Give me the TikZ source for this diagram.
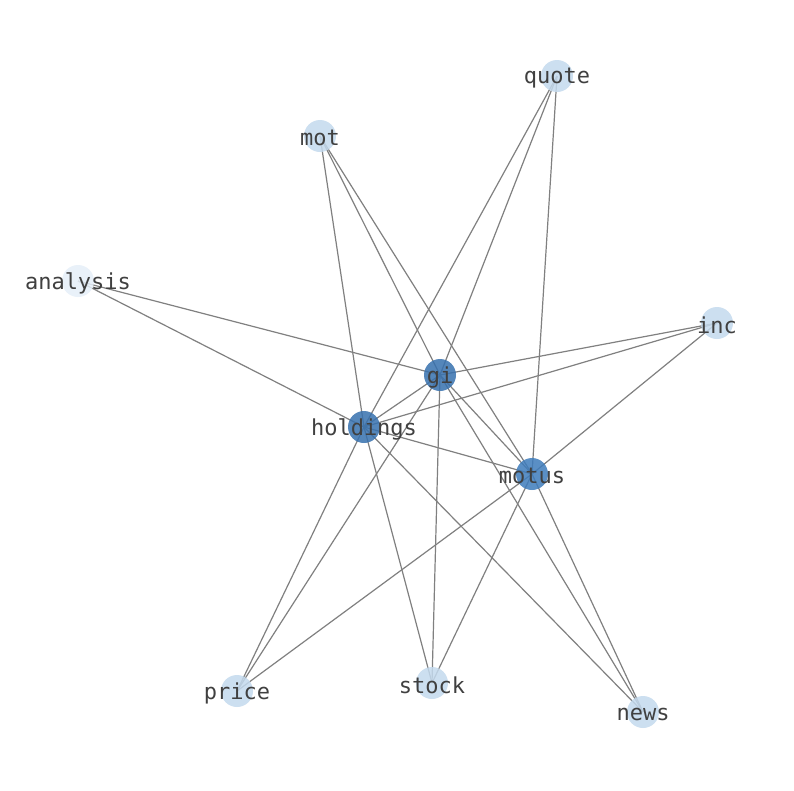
\documentclass[tikz,border=0pt]{standalone}
\usepackage{fontspec}
\setmonofont{DejaVu Sans Mono}
\begin{document}
\begin{tikzpicture}[x=1pt,y=-1pt,
  edge/.style={draw={rgb,255:red,128;green,128;blue,128},line width=1.2pt},
  nd/.style={circle,minimum size=32pt,inner sep=0pt,fill opacity=0.85,draw=none},
  hub/.style={nd,fill={rgb,255:red,55;green,113;blue,175}},
  hubb/.style={nd,fill={rgb,255:red,62;green,124;blue,188}},
  leaf/.style={nd,fill={rgb,255:red,196;green,218;blue,238}},
  faint/.style={nd,fill={rgb,255:red,230;green,239;blue,249}},
  lab/.style={text={rgb,255:red,64;green,64;blue,64},font=\ttfamily\fontsize{22}{24}\selectfont,inner sep=0pt,anchor=center,yshift=-2pt}]
\useasboundingbox (0,0) rectangle (794,790);
\fill[white] (0,0) rectangle (794,790);
\coordinate (quote) at (557,76);
\coordinate (mot) at (320,136);
\coordinate (analysis) at (78,281);
\coordinate (inc) at (717,323);
\coordinate (gi) at (440,375);
\coordinate (holdings) at (364,427);
\coordinate (motus) at (532,474);
\coordinate (price) at (237,691);
\coordinate (stock) at (432,683);
\coordinate (news) at (643,712);
% edges
\foreach \h in {gi,holdings,motus}{
  \foreach \o in {quote,mot,inc,price,stock,news}{
    \draw[edge] (\h) -- (\o);
  }
}
\draw[edge] (analysis) -- (gi);
\draw[edge] (analysis) -- (holdings);
\draw[edge] (gi) -- (holdings);
\draw[edge] (gi) -- (motus);
\draw[edge] (holdings) -- (motus);
% nodes
\node[leaf] (nquote) at (quote) {};
\node[leaf] (nmot) at (mot) {};
\node[faint] (nanalysis) at (analysis) {};
\node[leaf] (ninc) at (inc) {};
\node[hub] (ngi) at (gi) {};
\node[hub] (nholdings) at (holdings) {};
\node[hubb] (nmotus) at (motus) {};
\node[leaf] (nprice) at (price) {};
\node[leaf] (nstock) at (stock) {};
\node[leaf] (nnews) at (news) {};
% labels
\node[lab] (lquote) at (quote) {quote};
\node[lab] (lmot) at (mot) {mot};
\node[lab] (lanalysis) at (analysis) {analysis};
\node[lab] (linc) at (inc) {inc};
\node[lab] (lgi) at (gi) {gi};
\node[lab] (lholdings) at (holdings) {holdings};
\node[lab] (lmotus) at (motus) {motus};
\node[lab] (lprice) at (price) {price};
\node[lab] (lstock) at (stock) {stock};
\node[lab] (lnews) at (news) {news};
\end{tikzpicture}
\end{document}
